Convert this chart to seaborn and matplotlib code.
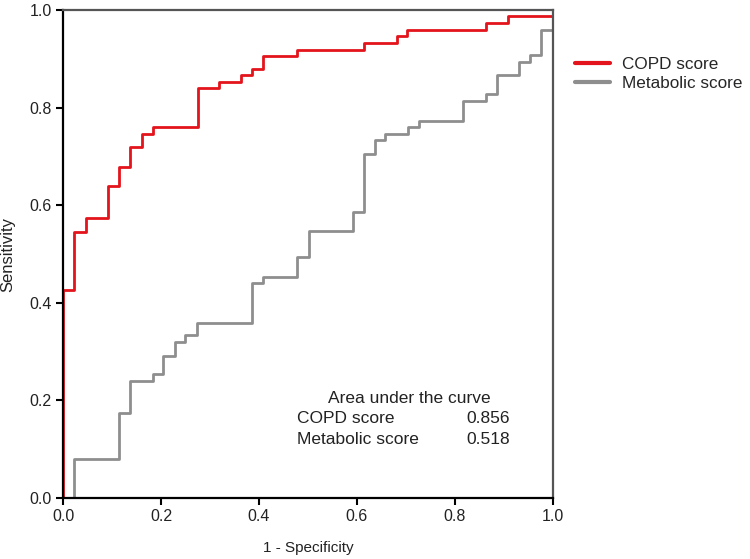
import matplotlib
matplotlib.use("Agg")
import matplotlib.pyplot as plt
import seaborn as sns
import pandas as pd

# ROC step corners (1 - specificity, sensitivity)
copd_fpr = [0, 0, 0.023, 0.047, 0.091, 0.115, 0.137, 0.161, 0.183, 0.275, 0.318,
            0.364, 0.386, 0.408, 0.478, 0.614, 0.682, 0.703, 0.864, 0.909, 1.0, 1.0]
copd_tpr = [0, 0.426, 0.546, 0.573, 0.639, 0.679, 0.719, 0.746, 0.760, 0.840, 0.853,
            0.867, 0.879, 0.906, 0.919, 0.933, 0.947, 0.960, 0.973, 0.987, 0.987, 1.0]

metab_fpr = [0, 0.023, 0.114, 0.137, 0.183, 0.205, 0.228, 0.250, 0.273, 0.386, 0.409,
             0.478, 0.502, 0.592, 0.614, 0.637, 0.658, 0.704, 0.727, 0.817, 0.863,
             0.886, 0.931, 0.954, 0.977, 1.0, 1.0]
metab_tpr = [0, 0.080, 0.174, 0.240, 0.254, 0.292, 0.319, 0.334, 0.359, 0.440, 0.453,
             0.493, 0.547, 0.587, 0.706, 0.734, 0.746, 0.761, 0.773, 0.814, 0.827,
             0.867, 0.894, 0.907, 0.959, 0.959, 1.0]

series_names = ["COPD score", "Metabolic score"]
auc_values = [0.856, 0.518]
ticks = [0.0, 0.2, 0.4, 0.6, 0.8, 1.0]

copd = pd.DataFrame({"fpr": copd_fpr, "tpr": copd_tpr})
metab = pd.DataFrame({"fpr": metab_fpr, "tpr": metab_tpr})

sns.set_style("white")
plt.rcParams["font.family"] = ["Liberation Sans", "DejaVu Sans"]

fig = plt.figure(figsize=(7.5, 5.59), dpi=100)
ax = fig.add_axes([0.084, 0.109, 0.653, 0.873])

sns.lineplot(data=copd, x="fpr", y="tpr", ax=ax, estimator=None, sort=False,
             drawstyle="steps-post", color="#e3141c", linewidth=2.0, label=series_names[0])
sns.lineplot(data=metab, x="fpr", y="tpr", ax=ax, estimator=None, sort=False,
             drawstyle="steps-post", color="#8e8e8e", linewidth=2.0, label=series_names[1])

ax.set_xlim(0, 1)
ax.set_ylim(0, 1)
ax.set_xticks(ticks)
ax.set_yticks(ticks)
ax.set_xticklabels([f"{t:.1f}" for t in ticks])
ax.set_yticklabels([f"{t:.1f}" for t in ticks])
ax.tick_params(axis="both", direction="out", length=5, width=1.5, color="black",
               labelsize=11.5, labelcolor="#222222", left=True, bottom=True, pad=3)
for side in ["left", "bottom"]:
    ax.spines[side].set_color("black")
    ax.spines[side].set_linewidth(1.6)
for side in ["top", "right"]:
    ax.spines[side].set_color("#555555")
    ax.spines[side].set_linewidth(1.6)

ax.set_xlabel("1 - Specificity", fontsize=11, color="#222222", labelpad=12)
ax.set_ylabel("Sensitivity", fontsize=12, color="#222222", labelpad=10)

leg = ax.legend(loc="upper left", bbox_to_anchor=(1.015, 0.935), frameon=False,
                fontsize=12.3, handlelength=2.0, handletextpad=0.75, labelspacing=0.25)
for line in leg.get_lines():
    line.set_linewidth(3.0)

# AUC annotation block
ax.text(0.708, 0.205, "Area under the curve", fontsize=12.5, color="#222222",
        ha="center", va="center", transform=ax.transAxes)
for i, (name, val) in enumerate(zip(series_names, auc_values)):
    y = 0.164 - i * 0.043
    ax.text(0.478, y, name, fontsize=12.5, color="#222222", ha="left", va="center",
            transform=ax.transAxes)
    ax.text(0.912, y, f"{val:.3f}", fontsize=12.5, color="#222222", ha="right", va="center",
            transform=ax.transAxes)

fig.savefig("out.png", dpi=100)
